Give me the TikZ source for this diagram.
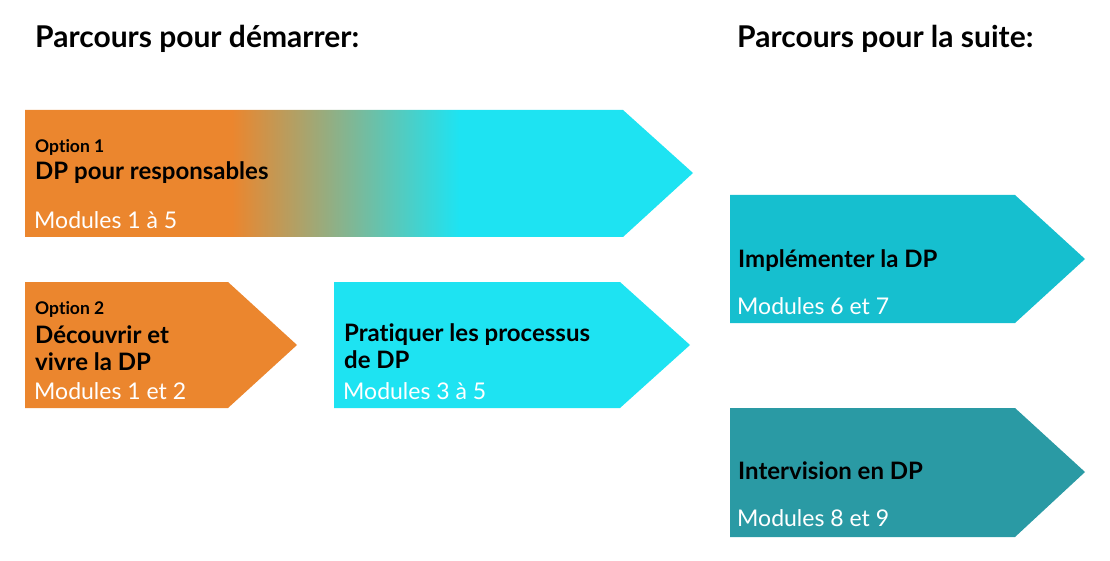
\documentclass[tikz,border=0pt]{standalone}
\usepackage{fontspec}
\setmainfont[Ligatures=NoCommon]{Lato}
\usetikzlibrary{positioning}
\definecolor{orangeDP}{RGB}{235,134,46}
\definecolor{cyanDP}{RGB}{30,227,242}
\definecolor{tealDP}{RGB}{22,191,207}
\definecolor{darktealDP}{RGB}{42,154,164}
\pgfdeclarehorizontalshading{optshade}{100bp}{color(0bp)=(orangeDP); color(40.5bp)=(orangeDP); color(57.5bp)=(cyanDP); color(100bp)=(cyanDP)}

\begin{document}
\begin{tikzpicture}[
		x=1pt, y=-1pt,
		every node/.style={inner sep=0pt, anchor=base west},
		heading/.style={font=\bfseries\fontsize{30}{33}\selectfont},
		optlabel/.style={font=\bfseries\fontsize{17.5}{20}\selectfont},
		ttl/.style={font=\bfseries\fontsize{24}{27}\selectfont, align=left},
		modules/.style={text=white, font=\fontsize{23}{26}\selectfont}
	]
	\useasboundingbox (0,0) rectangle (1110,561);

	% arrows
	\shade[shading=optshade] (25,110) -- (623,110) -- (693,173) -- (623,237) -- (25,237) -- cycle;
	\fill[orangeDP] (25,282) -- (228,282) -- (297,345) -- (228,408) -- (25,408) -- cycle;
	\fill[cyanDP] (334,282) -- (620,282) -- (690,345) -- (620,408) -- (334,408) -- cycle;
	\fill[tealDP] (730,195) -- (1015,195) -- (1085,259) -- (1015,323) -- (730,323) -- cycle;
	\fill[darktealDP] (730,408) -- (1015,408) -- (1085,472) -- (1015,537) -- (730,537) -- cycle;

	% headings
	\node[heading] (start) at (35,48) {Parcours pour démarrer:};
	\node[heading] (next) at (737,48) {Parcours pour la suite:};

	% option 1
	\node[optlabel] (opt1) at (35,153) {Option 1};
	\node[ttl] (opt1ttl) at (35,180) {DP pour responsables};
	\node[modules] (opt1mod) at (34,229) {Modules 1 à 5};

	% option 2 (base = last line)
	\node[optlabel] (opt2) at (35,314) {Option 2};
	\node[ttl] (opt2ttl) at (35,370) {Découvrir et\\vivre la DP};
	\node[modules] (opt2mod) at (34,399) {Modules 1 et 2};

	\node[ttl] (pratttl) at (344,368) {Pratiquer les processus\\de DP};
	\node[modules] (pratmod) at (343,399) {Modules 3 à 5};

	% suite
	\node[ttl] (implttl) at (738,268) {Implémenter la DP};
	\node[modules] (implmod) at (737,314) {Modules 6 et 7};

	\node[ttl] (intvttl) at (738,479) {Intervision en DP};
	\node[modules] (intvmod) at (737,526) {Modules 8 et 9};
\end{tikzpicture}
\end{document}
